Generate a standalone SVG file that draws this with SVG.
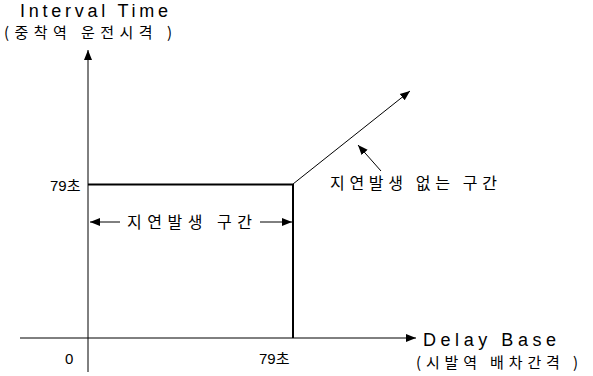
<svg xmlns="http://www.w3.org/2000/svg" width="593" height="376" viewBox="0 0 593 376">
<defs>
<marker id="ah" viewBox="0 0 10 10" refX="10" refY="5" markerWidth="10" markerHeight="10" markerUnits="userSpaceOnUse" orient="auto">
<path d="M0,1 L10,5 L0,9 Z" fill="#000"/>
</marker>
</defs>
<style>
.t{font-family:"Liberation Sans",Arial,"Noto Sans CJK KR",sans-serif;fill:#000}
.k{font-family:"Noto Sans CJK KR","Liberation Sans",sans-serif;fill:#000}
.ln{stroke:#000;fill:none}
</style>
<rect width="593" height="376" fill="#fff"/>
<g id="connectors">
<line class="ln" x1="88" y1="372" x2="88" y2="50" stroke-width="1" marker-end="url(#ah)"/>
<line class="ln" x1="20" y1="338" x2="416" y2="338" stroke-width="1" marker-end="url(#ah)"/>
<line class="ln" x1="88" y1="184.5" x2="293" y2="184.5" stroke-width="2"/>
<line class="ln" x1="293" y1="184" x2="293" y2="338" stroke-width="2"/>
<line class="ln" x1="293" y1="184" x2="410" y2="91" stroke-width="1" marker-end="url(#ah)"/>
<line class="ln" x1="381" y1="171" x2="358" y2="145" stroke-width="1" marker-end="url(#ah)"/>
<line class="ln" x1="120" y1="222" x2="90" y2="222" stroke-width="1" marker-end="url(#ah)"/>
<line class="ln" x1="260" y1="222" x2="292" y2="222" stroke-width="1" marker-end="url(#ah)"/>
</g>
<g id="y-axis-label">
<text class="t" x="20" y="17" font-size="18" textLength="148" lengthAdjust="spacing">Interval Time</text>
<text class="k" x="4" y="38" font-size="15" textLength="168" lengthAdjust="spacing">(중착역 운전시격 )</text>
</g>
<g id="x-axis-label">
<text class="t" x="423" y="346" font-size="18" textLength="133" lengthAdjust="spacing">Delay Base</text>
<text class="k" x="416" y="368" font-size="15" textLength="162" lengthAdjust="spacing">(시발역 배차간격 )</text>
</g>
<g id="tick-y79">
<text class="t" x="50" y="191" font-size="15">79<tspan class="k">초</tspan></text>
</g>
<g id="tick-0">
<text class="t" x="65" y="364" font-size="15">0</text>
</g>
<g id="tick-x79">
<text class="t" x="259" y="364" font-size="15">79<tspan class="k">초</tspan></text>
</g>
<g id="delay-zone">
<text class="k" x="127" y="228" font-size="16" textLength="125" lengthAdjust="spacing">지연발생 구간</text>
</g>
<g id="no-delay-zone">
<text class="k" x="330" y="189" font-size="16" textLength="167" lengthAdjust="spacing">지연발생 없는 구간</text>
</g>
</svg>
